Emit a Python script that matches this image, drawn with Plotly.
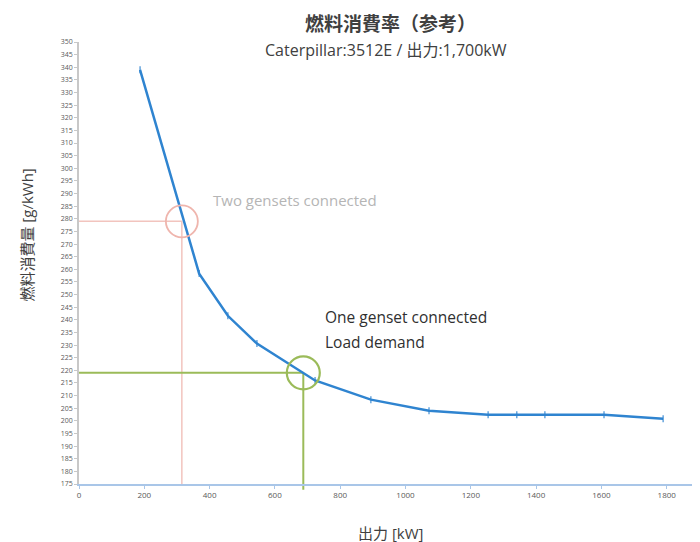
import plotly.graph_objects as go

# Data
load_kw = [187, 368, 456, 545, 723, 894, 1072, 1253, 1341, 1427, 1608, 1789]
fuel_gkwh = [339.0, 258.3, 241.6, 230.6, 216.0, 208.4, 204.0, 202.4, 202.4, 202.4, 202.4, 200.8]

two_genset = (315, 279)   # (kW, g/kWh)
one_genset = (687, 219)   # (kW, g/kWh)

x_range = [0, 1902]
y_range = [175, 350]
y_ticks = list(range(175, 351, 5))
x_ticks = list(range(0, 1801, 200))

RED = "#f2c4be"
RED_CIRCLE = "#efb5ad"
GREEN = "#9bbb59"
BLUE = "#2f84d0"

fig = go.Figure()

fig.add_trace(go.Scatter(
    x=load_kw, y=fuel_gkwh, mode="lines+markers",
    line=dict(color=BLUE, width=2.5),
    marker=dict(symbol="line-ns-open", size=5, color=BLUE, line=dict(color=BLUE, width=1.1)),
    showlegend=False, hoverinfo="x+y"))

def ypaper(v):
    return (v - y_range[0]) / (y_range[1] - y_range[0])

shapes = [
    dict(type="line", xref="x", yref="y", x0=0, x1=two_genset[0], y0=two_genset[1], y1=two_genset[1],
         line=dict(color=RED, width=1.5), layer="below"),
    dict(type="line", xref="x", yref="y", x0=two_genset[0], x1=two_genset[0], y0=y_range[0], y1=two_genset[1],
         line=dict(color=RED, width=1.5), layer="below"),
    dict(type="line", xref="x", yref="y", x0=0, x1=one_genset[0], y0=one_genset[1], y1=one_genset[1],
         line=dict(color=GREEN, width=2), layer="below"),
    dict(type="line", xref="x", yref="paper", x0=one_genset[0], x1=one_genset[0], y0=-0.013, y1=ypaper(one_genset[1]),
         line=dict(color=GREEN, width=2), layer="below"),
]

fig.add_trace(go.Scatter(
    x=[two_genset[0]], y=[two_genset[1]], mode="markers",
    marker=dict(symbol="circle-open", size=32, color=RED_CIRCLE, line=dict(color=RED_CIRCLE, width=1.8)),
    showlegend=False, hoverinfo="skip"))
fig.add_trace(go.Scatter(
    x=[one_genset[0]], y=[one_genset[1]], mode="markers",
    marker=dict(symbol="circle-open", size=33, color=GREEN, line=dict(color=GREEN, width=2.2)),
    showlegend=False, hoverinfo="skip"))

annotations = [
    dict(text="<b>燃料消費率（参考）</b>", xref="paper", yref="paper", x=0.501, y=1.045,
         showarrow=False, font=dict(size=19, color="#404040", family="Noto Sans CJK JP"),
         xanchor="center", yanchor="middle"),
    dict(text="Caterpillar:3512E / 出力:1,700kW", xref="paper", yref="paper", x=0.495, y=0.983,
         showarrow=False, font=dict(size=16, color="#404040", family="Open Sans, Noto Sans CJK JP"),
         xanchor="center", yanchor="middle"),
    dict(text="燃料消費量 [g/kWh]", xref="paper", yref="paper", x=-0.084, y=0.564, textangle=-90,
         showarrow=False, font=dict(size=15, color="#404040", family="Open Sans, Noto Sans CJK JP"),
         xanchor="center", yanchor="middle"),
    dict(text="出力 [kW]", xref="paper", yref="paper", x=0.501, y=-0.110,
         showarrow=False, font=dict(size=15, color="#404040", family="Open Sans, Noto Sans CJK JP"),
         xanchor="center", yanchor="middle"),
    dict(text="Two gensets connected", xref="x", yref="y", x=404, y=287.6,
         showarrow=False, font=dict(size=15, color="#b5b5b5", family="Open Sans"),
         xanchor="left", yanchor="middle"),
    dict(text="One genset connected", xref="x", yref="y", x=747, y=241.3,
         showarrow=False, font=dict(size=15.5, color="#303030", family="Open Sans"),
         xanchor="left", yanchor="middle"),
    dict(text="Load demand", xref="x", yref="y", x=747, y=231.4,
         showarrow=False, font=dict(size=15.5, color="#303030", family="Open Sans"),
         xanchor="left", yanchor="middle"),
]

fig.update_layout(
    width=692, height=534,
    margin=dict(l=71, r=0, t=34, b=58),
    paper_bgcolor="white", plot_bgcolor="white",
    shapes=shapes, annotations=annotations,
    font=dict(family="Open Sans, Noto Sans CJK JP"),
    xaxis=dict(range=x_range, tickvals=x_ticks, ticktext=[str(v) for v in x_ticks],
               showgrid=False, zeroline=False, showline=True, linecolor="#a9c6e8", linewidth=1.5,
               ticks="outside", ticklen=3, tickcolor="#a9c6e8",
               tickfont=dict(size=8, color="#595959"), fixedrange=True),
    yaxis=dict(range=y_range, tickvals=y_ticks, ticktext=[str(v) for v in y_ticks],
               showgrid=False, zeroline=False, showline=True, linecolor="#c8c8c8", linewidth=1.5,
               ticks="outside", ticklen=3, tickcolor="#c8c8c8",
               tickfont=dict(size=7, color="#595959"), fixedrange=True),
)

fig.write_html("out.html")
